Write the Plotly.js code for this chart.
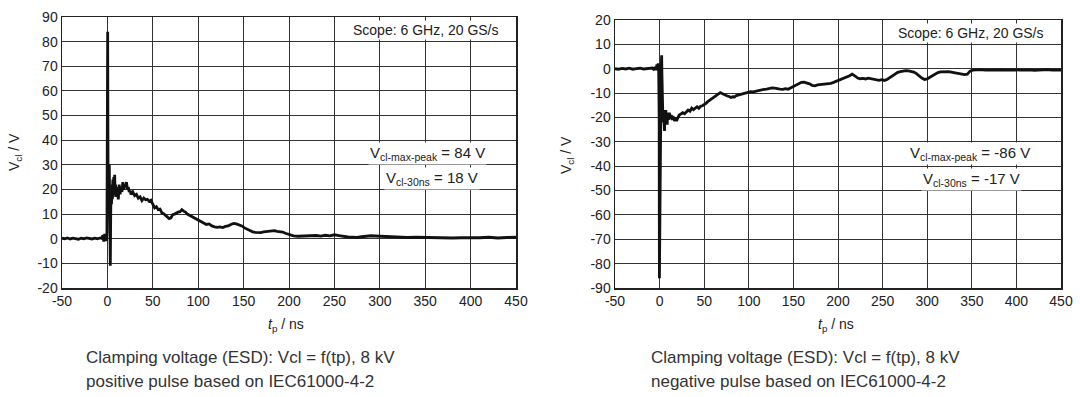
<!DOCTYPE html>
<html>
<head>
<meta charset="utf-8">
<script src="https://cdn.plot.ly/plotly-3.0.1.min.js"></script>
<style>
  html, body { margin: 0; padding: 0; background: #fff; }
  #chart { width: 1080px; height: 397px; }
</style>
</head>
<body>
<div id="chart"></div>
<script>
// ---------- Data: positive pulse (left) ----------
const posTime = [-50,-47,-44,-41,-38,-35,-32,-29,-26,-23,-20,-17,-14,-11,-8,-6,-5,-4,-3,-2,-1.5,-1,-0.5,0,0.3,0.6,0.9,1.2,1.5,1.8,2.1,2.4,2.8,3.2,3.6,4,4.5,5,5.5,6,6.5,7,7.5,8,8.5,9,10,11,12,13,14,15,16,17,18,19,20,21,22,23,24,25,26,28,30,32,34,36,38,40,42,44,46,48,50,52,54,56,58,60,62,64,66,68,70,72,74,76,78,80,82,84,86,88,90,92,94,96,98,100,103,106,109,112,115,118,121,124,127,130,133,136,139,142,145,148,151,154,157,160,163,166,169,172,175,178,181,184,187,190,193,196,199,202,205,210,215,220,225,230,235,240,245,250,255,260,265,270,275,280,285,290,295,300,305,310,320,330,340,350,360,370,380,390,400,410,420,430,440,450];
const posVolt = [0.2,0.0,0.3,-0.1,0.2,0.1,-0.2,0.2,0.0,0.3,0.1,-0.1,0.2,0.0,0.3,0.1,1.5,-1.2,2.0,-1.0,1.8,-0.8,2.5,30,84,40,15,38,22,14,30,18,5,-11,8,20,14,22,16,24,17,25,18,26,19,22,17,21,16,22,18,21,19,23,20,22,21,23,20,21,19,19.5,18,19,17.5,18,16.5,17,15.5,16.5,15.8,16,15.2,15.6,14,12.5,13,11.8,12,10.5,10.2,9.5,9,8.2,8.5,9.8,10,10.5,10.8,11,11.8,11.2,10.8,10,9.6,9.2,8.6,8.2,8,7.4,6.8,6.4,5.8,6,5.2,4.8,4.6,4.8,4.5,5,5.2,5.8,6.2,6,5.6,5.2,4.4,3.8,3.2,2.8,2.6,2.4,2.5,2.8,3,3.2,3.1,3.3,3,2.9,2.7,2.2,1.8,1.4,1.2,1,1.1,1.2,1,1.3,1.1,1.4,1.2,1.6,1.3,0.9,0.7,0.6,0.5,0.8,1,1.2,1.1,1.0,0.9,0.7,0.6,0.5,0.6,0.5,0.4,0.5,0.3,0.4,0.3,0.4,0.6,0.3,0.5,0.6];

// ---------- Data: negative pulse (right) ----------
const negTime = [-50,-46,-42,-38,-34,-30,-26,-22,-18,-14,-10,-8,-6,-5,-4,-3,-2,-1.5,-1,-0.5,-0.2,0,0.3,0.6,0.9,1.2,1.6,2,2.3,2.6,3,3.4,3.8,4.2,4.6,5,5.5,6,6.5,7,7.5,8,8.5,9,10,11,12,13,14,15,16,17,18,19,20,21,22,24,26,28,30,32,34,36,38,40,42,44,46,48,50,52,54,56,58,60,62,64,66,68,70,72,74,76,78,80,82,84,86,88,90,93,96,99,102,105,108,111,114,117,120,123,126,129,132,135,138,141,144,147,150,153,156,159,162,165,168,171,174,177,180,183,186,189,192,195,198,201,204,207,210,213,216,218,220,222,225,228,231,234,237,240,243,246,249,252,255,258,261,264,267,270,273,276,279,282,285,288,291,294,297,300,303,306,309,312,315,318,321,324,327,330,333,336,339,342,345,348,351,355,360,365,370,375,380,385,390,395,400,405,410,415,420,425,430,435,440,445,450];
const negVolt = [0,-0.2,0.1,-0.1,0.2,-0.2,0,0.2,-0.1,0.1,0,0.3,-0.5,0.8,-0.6,1.8,0.5,2.2,-1.5,-20,-86,-75,-40,-20,-38,-18,-5,2,5.5,-2,-20,-16,-22,-17,-24,-18,-25.5,-19,-22,-17,-21,-18,-23,-19,-21,-18,-20.5,-19,-21,-19.5,-20.5,-21.5,-20,-21.5,-20.5,-19.5,-19,-18.5,-18,-18.5,-17.5,-17,-17.5,-16.2,-16.8,-16,-15.6,-16.2,-15.4,-15.2,-14.8,-14.2,-13.5,-13,-12.2,-12,-11.4,-11,-10.4,-9.8,-10.2,-10.6,-10.8,-11.2,-11.4,-11.8,-11.5,-11.6,-11,-10.8,-10.5,-10.2,-9.8,-9.6,-9.4,-9.5,-9.2,-9,-8.8,-8.5,-8.4,-8.1,-7.9,-8,-8.3,-8.4,-8.5,-8.2,-8.4,-7.8,-7.3,-6.8,-6,-5.6,-5.5,-5.8,-6.2,-6.8,-7,-6.6,-6.5,-6.6,-6.2,-6.3,-6,-5.6,-5.2,-4.8,-4.2,-3.8,-3.4,-2.9,-2.2,-2.6,-3.2,-3.8,-4.1,-4,-4.2,-3.9,-4.1,-4.4,-4.6,-4.8,-4.5,-4.8,-4.4,-3.6,-2.8,-2,-1.5,-1.2,-0.9,-0.8,-0.9,-1.1,-1.4,-2,-3,-3.8,-4.4,-4.2,-3.5,-2.8,-2.1,-1.6,-1.3,-1.2,-1.1,-1.2,-1.4,-1.5,-1.7,-2,-2.2,-2.4,-2.2,-1,-0.6,-0.5,-0.4,-0.6,-0.5,-0.4,-0.6,-0.5,-0.6,-0.4,-0.5,-0.6,-0.4,-0.5,-0.7,-0.5,-0.6,-0.4,-0.6,-0.7,-0.6];

// ---------- Tick labels ----------
const xTickVals = [-50,0,50,100,150,200,250,300,350,400,450];
const xTickText = ["-50","0","50","100","150","200","250","300","350","400","450"];
const yPosTickVals = [-20,-10,0,10,20,30,40,50,60,70,80,90];
const yPosTickText = ["-20","-10","0","10","20","30","40","50","60","70","80","90"];
const yNegTickVals = [-90,-80,-70,-60,-50,-40,-30,-20,-10,0,10,20];
const yNegTickText = ["-90","-80","-70","-60","-50","-40","-30","-20","-10","0","10","20"];

// ---------- Texts ----------
const yTitle = "V<sub>cl</sub> / V";
const xTitle = "<i>t</i><sub>p</sub> / ns";
const scopeText = "Scope: 6 GHz, 20 GS/s";
const posPeakText = "V<sub>cl-max-peak</sub> = 84 V";
const pos30Text = "V<sub>cl-30ns</sub> = 18 V";
const negPeakText = "V<sub>cl-max-peak</sub> = -86 V";
const neg30Text = "V<sub>cl-30ns</sub> = -17 V";
const posCaption = ["Clamping voltage (ESD): Vcl = f(tp), 8 kV", "positive pulse based on IEC61000-4-2"];
const negCaption = ["Clamping voltage (ESD): Vcl = f(tp), 8 kV", "negative pulse based on IEC61000-4-2"];

const FONT = "Liberation Sans, Arial, Helvetica, sans-serif";
const W = 1080, H = 397;
const px = v => v / W;
const py = v => 1 - v / H;

const lineStyle = {color: '#111', width: 2.8};
const traces = [
  {x: posTime, y: posVolt, type: 'scatter', mode: 'lines', line: lineStyle, xaxis: 'x', yaxis: 'y', hoverinfo: 'skip'},
  {x: negTime, y: negVolt, type: 'scatter', mode: 'lines', line: lineStyle, xaxis: 'x2', yaxis: 'y2', hoverinfo: 'skip'}
];

const tickFont = {family: FONT, size: 14, color: '#222'};
const axCommon = {
  showgrid: true, gridcolor: '#333', gridwidth: 1,
  showline: true, mirror: true, linecolor: '#222', linewidth: 1.5,
  zeroline: false, ticks: '', tickfont: tickFont, fixedrange: true,
  tickmode: 'array'
};

function ann(x, y, text, size, extra) {
  return Object.assign({xref: 'paper', yref: 'paper', x: px(x), y: py(y), xanchor: 'center', yanchor: 'middle',
    text: text, showarrow: false, font: {family: FONT, size: size, color: '#222'}}, extra || {});
}

const layout = {
  width: W, height: H,
  margin: {l: 0, r: 0, t: 0, b: 0},
  paper_bgcolor: '#fff', plot_bgcolor: '#fff',
  showlegend: false,
  font: {family: FONT, color: '#222'},
  xaxis: Object.assign({}, axCommon, {domain: [px(62), px(516)], range: [-50, 450], tickvals: xTickVals, ticktext: xTickText, anchor: 'y'}),
  yaxis: Object.assign({}, axCommon, {domain: [py(288), py(17)], range: [-20, 90], tickvals: yPosTickVals, ticktext: yPosTickText, anchor: 'x'}),
  xaxis2: Object.assign({}, axCommon, {domain: [px(615), px(1061)], range: [-50, 450], tickvals: xTickVals, ticktext: xTickText, anchor: 'y2'}),
  yaxis2: Object.assign({}, axCommon, {domain: [py(288), py(20)], range: [-90, 20], tickvals: yNegTickVals, ticktext: yNegTickText, anchor: 'x2'}),
  annotations: [
    // axis titles
    ann(15, 152, yTitle, 14, {textangle: -90}),
    ann(567, 155, yTitle, 14, {textangle: -90}),
    ann(286, 325, xTitle, 14),
    ann(836, 325, xTitle, 14),
    // scope boxes
    ann(501, 30, scopeText, 14, {xanchor: 'right', bgcolor: '#fff', borderpad: 1}),
    ann(1046, 33, scopeText, 14, {xanchor: 'right', bgcolor: '#fff', borderpad: 1}),
    // values
    ann(427, 154, posPeakText, 15, {bgcolor: '#fff', borderpad: 1}),
    ann(432, 178, pos30Text, 15, {bgcolor: '#fff', borderpad: 1}),
    ann(970, 154, negPeakText, 15, {bgcolor: '#fff', borderpad: 1}),
    ann(971, 179, neg30Text, 15, {bgcolor: '#fff', borderpad: 1}),
    // captions
    ann(84, 357, posCaption[0], 17, {xanchor: 'left', font: {family: FONT, size: 17, color: '#333'}}),
    ann(84, 381, posCaption[1], 17, {xanchor: 'left', font: {family: FONT, size: 17, color: '#333'}}),
    ann(649, 357, negCaption[0], 17, {xanchor: 'left', font: {family: FONT, size: 17, color: '#333'}}),
    ann(649, 381, negCaption[1], 17, {xanchor: 'left', font: {family: FONT, size: 17, color: '#333'}})
  ]
};

Plotly.newPlot('chart', traces, layout, {staticPlot: true, displayModeBar: false});
</script>
</body>
</html>
